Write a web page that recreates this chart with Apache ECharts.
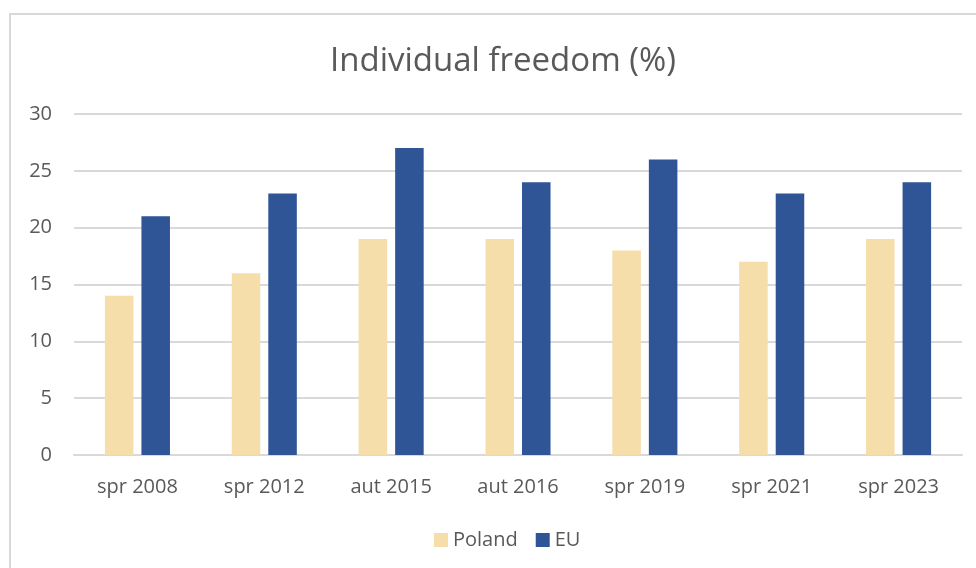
<!DOCTYPE html>
<html>
<head>
<meta charset="utf-8">
<script src="https://cdn.jsdelivr.net/npm/echarts@6/dist/echarts.min.js"></script>
<style>
  html, body { margin: 0; padding: 0; background: #fff; }
  #chart { width: 976px; height: 568px; }
</style>
</head>
<body>
<div id="chart"></div>
<script>
var categories = ['spr 2008', 'spr 2012', 'aut 2015', 'aut 2016', 'spr 2019', 'spr 2021', 'spr 2023'];
var poland = [14, 16, 19, 19, 18, 17, 19];
var eu = [21, 23, 27, 24, 26, 23, 24];

var myChart = echarts.init(document.getElementById('chart'));
var textColor = '#595959';
var font = '"Open Sans", Calibri, sans-serif';

myChart.setOption({
  animation: false,
  textStyle: { fontFamily: font },
  graphic: [{
    type: 'rect',
    shape: { x: 10, y: 14, width: 1000, height: 600 },
    style: { fill: 'none', stroke: '#d9d9d9', lineWidth: 2 },
    silent: true
  }],
  title: {
    text: 'Individual freedom (%)',
    left: 325,
    top: 40,
    textStyle: { fontSize: 33, fontWeight: 'normal', color: textColor, fontFamily: font }
  },
  legend: {
    data: ['Poland', 'EU'],
    top: 525,
    left: 429,
    itemWidth: 14,
    itemHeight: 14,
    itemGap: 18,
    icon: 'rect',
    textStyle: { fontSize: 20, color: textColor, fontFamily: font }
  },
  grid: { left: 74, right: 14, top: 114, bottom: 113 },
  xAxis: {
    type: 'category',
    data: categories,
    axisTick: { show: false },
    axisLine: { lineStyle: { color: '#d9d9d9', width: 2 } },
    axisLabel: { fontSize: 20, color: textColor, margin: 22, fontFamily: font }
  },
  yAxis: {
    type: 'value',
    min: 0,
    max: 30,
    interval: 5,
    axisLine: { show: false },
    axisTick: { show: false },
    splitLine: { lineStyle: { color: '#d9d9d9', width: 2 } },
    axisLabel: { fontSize: 20, color: textColor, margin: 22, fontFamily: font }
  },
  series: [
    {
      name: 'Poland',
      type: 'bar',
      data: poland,
      barWidth: '22.5%',
      barGap: '28%',
      itemStyle: { color: '#F5DEAA' }
    },
    {
      name: 'EU',
      type: 'bar',
      data: eu,
      barWidth: '22.5%',
      itemStyle: { color: '#2F5597' }
    }
  ]
});
</script>
</body>
</html>
